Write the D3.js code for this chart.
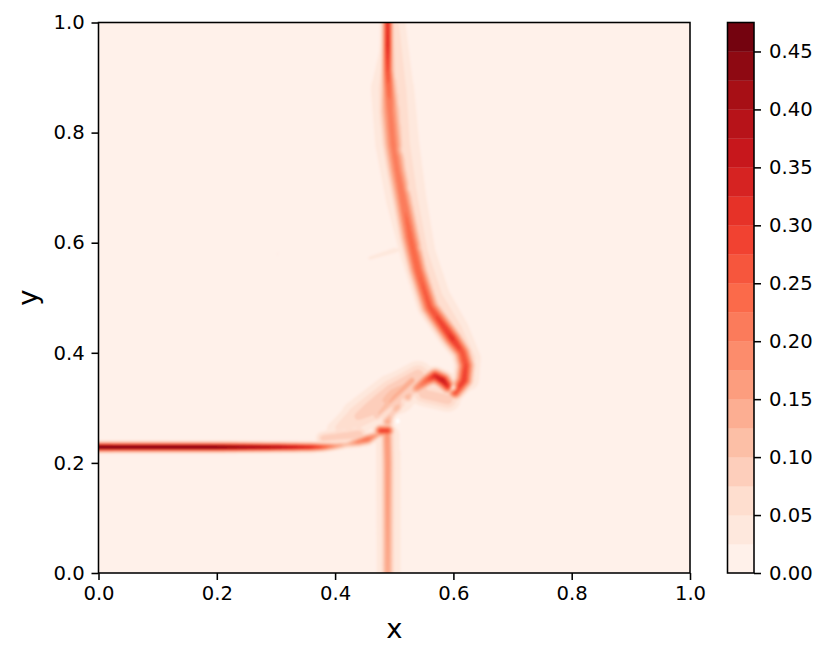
<!DOCTYPE html>
<html><head><meta charset="utf-8">
<script src="https://cdn.jsdelivr.net/npm/d3@7"></script>
<style>html,body{margin:0;background:#fff}svg{display:block}text{font-family:"DejaVu Sans",sans-serif;fill:#000}</style>
</head><body><svg id="c" width="830" height="660"></svg>
<script>
// Each ridge point: [x, y, width, peak value] in data units
const leftRidge=[[-.02,.2287,.0052,.47],[.2,.2287,.0052,.46],[.3,.2287,.005,.40],[.36,.2287,.005,.33],[.38,.2290,.0048,.26],[.40,.2305,.0045,.17],[.42,.2335,.0045,.11],[.44,.2385,.0055,.20],[.455,.2430,.006,.23],[.468,.2495,.005,.16],[.478,.255,.005,.15]];
const spot=[[.477,.2585,.0065,.29],[.489,.2585,.0065,.29]];
const curlRidge=[[.489,.275,.007,.15],[.497,.290,.006,.09],[.505,.301,.006,.13],[.513,.311,.005,.07],[.522,.319,.0065,.14],[.530,.328,.005,.09],[.538,.336,.007,.18],[.555,.350,.0075,.25],[.569,.358,.008,.33],[.582,.350,.0085,.36],[.591,.339,.0075,.32]];
const upperRidge=[[.489,1.02,.0058,.32],[.489,.958,.0058,.33],[.489,.913,.0065,.28],[.491,.877,.0085,.24],[.493,.840,.011,.21],[.498,.780,.011,.21],[.505,.731,.0105,.21],[.515,.677,.0105,.22],[.527,.610,.0105,.24],[.540,.550,.0098,.25],[.560,.483,.0098,.26],[.572,.465,.0098,.28],[.598,.426,.0098,.31],[.615,.401,.009,.27],[.621,.377,.009,.28],[.618,.350,.0088,.30],[.603,.328,.0075,.28]];
const lowerRidge=[[.489,-.02,.0068,.15],[.489,.10,.0068,.16],[.489,.20,.0068,.17],[.488,.25,.0065,.18]];
const upperHalo=[[.503,1.02,.012,.05],[.497,.88,.024,.08],[.505,.78,.026,.07],[.52,.68,.024,.07],[.54,.58,.021,.07],[.565,.50,.021,.07],[.60,.44,.019,.07],[.625,.39,.015,.07],[.625,.35,.014,.06]];
const curlHalo=[[.40,.262,.012,.05],[.44,.285,.020,.08],[.50,.325,.022,.11],[.54,.36,.016,.09]];
const curlStreak=[[.47,.285,.006,.10],[.50,.32,.006,.14],[.53,.35,.006,.15]];
const underCurlHalo=[[.38,.245,.008,.09],[.44,.252,.011,.09]];
const belowCurlHalo=[[.55,.325,.014,.09],[.59,.315,.014,.09]];
const lowerHalo=[[.489,-.02,.014,.06],[.489,.25,.014,.07]];
const lowerStrip=[[.505,-.02,.007,.035],[.505,.22,.007,.035]];
const finger=[[.459,.572,.004,.035],[.501,.586,.005,.04]];
const specks=[[.30,.575,.002,.03],[.305,.585,.002,.03]];
// Holes: [x, y, width, depth] where the field falls below zero and white shows
const holes=[[.511,.768,.005,.025],[.525,.699,.004,.022],[.542,.59,.003,.02],[.501,.278,.006,.03],[.518,.314,.004,.03],[.60,.336,.004,.15]];
const baseValue=.01;
const ridges=[leftRidge,spot,curlRidge,upperRidge,lowerRidge,upperHalo,curlHalo,curlStreak,underCurlHalo,belowCurlHalo,lowerHalo,lowerStrip,finger,specks];

const levelStep=.025, levelCount=19;
const xTicks=[0,.2,.4,.6,.8,1], yTicks=[0,.2,.4,.6,.8,1];
const cbTicks=[0,.05,.1,.15,.2,.25,.3,.35,.4,.45];
const redsStops=["#fff5f0","#fee0d2","#fcbba1","#fc9272","#fb6a4a","#ef3b2c","#cb181d","#a50f15","#67000d"];
const xLabel="x", yLabel="y";

const L=98.5,R=690,T=22.5,B=573,CL=727.5,CR=754;
const lw=1.55,tick=7;
const svg=d3.select("#c");
const x=d3.scaleLinear().domain([0,1]).range([L,R]);
const y=d3.scaleLinear().domain([0,1]).range([B,T]);
const cb=d3.scaleLinear().domain([0,levelStep*levelCount]).range([B,T]);
const reds=d3.scaleLinear().domain(redsStops.map((_,i)=>i/8)).range(redsStops);
const levels=d3.range(levelCount).map(i=>i*levelStep);
const bandColor=i=>reds((i+.5)/levelCount);

// field
const nx=340,ny=320,x0=-.02,x1=1.02,y0=-.02,y1=1.02;
const gxv=d3.scaleLinear().domain([0,nx-1]).range([x0,x1]);
const gyv=d3.scaleLinear().domain([0,ny-1]).range([y0,y1]);
const field=new Float64Array(nx*ny);
for(let j=0;j<ny;j++){const py=gyv(j);
 for(let i=0;i<nx;i++){const px=gxv(i);let v=baseValue;
  for(const r of ridges){for(let k=0;k<r.length-1;k++){const a=r[k],b=r[k+1];
    const dx=b[0]-a[0],dy=b[1]-a[1];
    const t=Math.max(0,Math.min(1,((px-a[0])*dx+(py-a[1])*dy)/(dx*dx+dy*dy)));
    const ex=px-a[0]-t*dx,ey=py-a[1]-t*dy;
    const s=a[2]+t*(b[2]-a[2]),p=a[3]+t*(b[3]-a[3]);
    const d2=ex*ex+ey*ey;
    if(d2<25*s*s){const w=p*Math.exp(-d2/(2*s*s));if(w>v)v=w;}
  }}
  for(const h of holes){const ex=px-h[0],ey=py-h[1];v-=h[3]*Math.exp(-(ex*ex+ey*ey)/(2*h[2]*h[2]));}
  field[j*nx+i]=v;
 }}
const contours=d3.contours().size([nx,ny]).thresholds(levels)(field);
const gx=d3.scaleLinear().domain([.5,nx-.5]).range([x0,x1]);
const gy=d3.scaleLinear().domain([.5,ny-.5]).range([y0,y1]);
const path=d3.geoPath(d3.geoTransform({point(a,b){this.stream.point(x(gx(a)),y(gy(b)));}}));

const defs=svg.append("defs");
defs.append("clipPath").attr("id","plot").append("rect").attr("x",L).attr("y",T).attr("width",R-L).attr("height",B-T);
defs.append("filter").attr("id","soft").attr("filterUnits","userSpaceOnUse").attr("x",L-10).attr("y",T-10).attr("width",R-L+20).attr("height",B-T+20)
  .append("feGaussianBlur").attr("stdDeviation",1.1);
svg.append("g").attr("clip-path","url(#plot)").append("g").attr("filter","url(#soft)")
  .selectAll("path").data(contours).join("path")
  .attr("d",path).attr("fill",(d,i)=>bandColor(i));

// frame and axes
svg.append("rect").attr("x",L).attr("y",T).attr("width",R-L).attr("height",B-T).attr("fill","none").attr("stroke","#000").attr("stroke-width",lw);
function style(g){g.select(".domain").remove();g.selectAll("line").attr("stroke","#000").attr("stroke-width",lw);
  g.selectAll("text").attr("font-size",19.6).attr("fill","#000").attr("font-family",'"DejaVu Sans"');}
svg.append("g").attr("transform",`translate(0,${B})`).call(d3.axisBottom(x).tickValues(xTicks).tickFormat(d3.format(".1f")).tickSize(tick).tickPadding(6.5)).call(style);
svg.append("g").attr("transform",`translate(${L},0)`).call(d3.axisLeft(y).tickValues(yTicks).tickFormat(d3.format(".1f")).tickSize(tick).tickPadding(6.8)).call(style);

// colorbar
svg.append("g").selectAll("rect").data(levels).join("rect")
  .attr("x",CL).attr("width",CR-CL).attr("y",d=>cb(d+levelStep)).attr("height",d=>cb(d)-cb(d+levelStep)+.3)
  .attr("fill",(d,i)=>bandColor(i));
svg.append("rect").attr("x",CL).attr("y",T).attr("width",CR-CL).attr("height",B-T).attr("fill","none").attr("stroke","#000").attr("stroke-width",lw);
svg.append("g").attr("transform",`translate(${CR},0)`).call(d3.axisRight(cb).tickValues(cbTicks).tickFormat(d3.format(".2f")).tickSize(tick).tickPadding(8)).call(style);

svg.append("text").attr("x",(L+R)/2).attr("y",638).attr("text-anchor","middle").attr("font-size",27.4).text(xLabel);
svg.append("text").attr("transform",`translate(37,${(T+B)/2}) rotate(-90)`).attr("text-anchor","middle").attr("font-size",27.4).text(yLabel);
</script></body></html>
